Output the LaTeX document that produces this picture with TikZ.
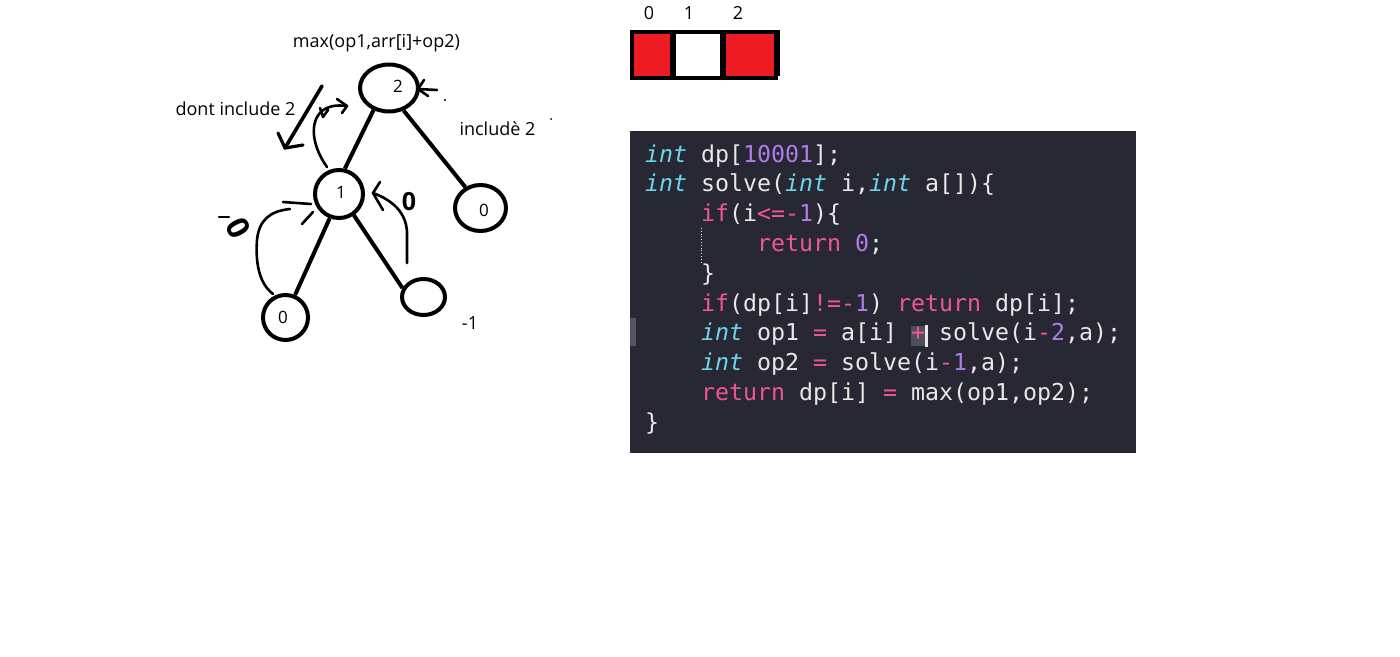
\documentclass[tikz,border=0pt]{standalone}
\usepackage{fontspec}
\setmainfont{Open Sans}
\newfontfamily\codefont{DejaVu Sans Mono}
\usetikzlibrary{shapes.geometric,arrows.meta}
\definecolor{paintred}{RGB}{237,28,36}
\definecolor{codebg}{RGB}{40,40,52}
\definecolor{kwcyan}{RGB}{110,214,236}
\definecolor{kwpink}{RGB}{238,86,152}
\definecolor{numpurple}{RGB}{176,124,236}
\definecolor{codefg}{RGB}{232,232,232}
\definecolor{gutter}{RGB}{84,84,100}
\definecolor{curbg}{RGB}{78,78,94}
\newcommand\ckI[1]{{\itshape\color{kwcyan}#1}}
\newcommand\ckP[1]{{\color{kwpink}#1}}
\newcommand\ckN[1]{{\color{numpurple}#1}}
\begin{document}
\begin{tikzpicture}[x=1pt,y=-1pt,
  treenode/.style={draw,ellipse,line width=4pt,inner sep=0pt},
  numtxt/.style={inner sep=0pt,font=\fontsize{17}{19}\selectfont},
  edge/.style={line width=4pt},
  hand/.style={line width=2.6pt,line cap=round,line join=round},
  lbl/.style={inner sep=0pt,font=\fontsize{18}{21}\selectfont},
  scrawl/.style={inner sep=0pt,font=\bfseries\fontsize{25}{28}\selectfont},
  cell/.style={draw,line width=4pt,minimum height=46pt,inner sep=0pt},
  code/.style={anchor=base west,inner sep=0pt,text=codefg,font=\codefont\fontsize{23.25}{28}\selectfont},
]
\useasboundingbox (0,0) rectangle (1400,656);
\fill[white] (0,0) rectangle (1400,656);

% ---------- tree ----------
\node[treenode,minimum width=58pt,minimum height=47pt] (n2) at (389,88) {};
\node[treenode,minimum width=48pt,minimum height=48pt] (n1) at (339,194) {};
\node[treenode,minimum width=51pt,minimum height=46pt] (nr) at (480.5,208) {};
\node[treenode,minimum width=45pt,minimum height=45pt] (nl) at (285.5,317.5) {};
\node[treenode,minimum width=43pt,minimum height=36pt] (nm) at (423.5,297) {};

\node[numtxt] (t2) at (398,86) {2};
\node[numtxt] (t1) at (341,192) {1};
\node[numtxt] (tr) at (484,210) {0};
\node[numtxt] (tl) at (283,317) {0};

\draw[edge] (n2.235) -- (n1.77);
\draw[edge] (n2.303) -- (nr.126);
\draw[edge] (n1.249) -- (nl.67);
\draw[edge] (n1.305) -- (nm.157);

% labels
\node[lbl] (lmax) at (376.5,43) {max(op1,arr[i]+op2)};
\node[lbl] (ldont) at (235.5,109) {dont include 2};
\node[lbl] (linc) at (497.5,129) {includè 2};
\node[lbl] (lm1) at (470,323) {-1};

% long straight arrow (dont include)
\coordinate (a1s) at (322,86);
\coordinate (a1e) at (285,148);
\draw[hand,line width=3.6pt] (a1s) -- (a1e);
\draw[hand,line width=3.2pt] (278,133) -- (a1e) -- (303,145);

% curved arrow from 1 up to 2
\coordinate (a2s) at (327,167);
\coordinate (a2e) at (347,106);
\draw[hand] (a2s) .. controls (312,146) and (309,122) .. (322,111) .. controls (330,105) and (338,105) .. (a2e);
\draw[hand] (337,99) -- (a2e) -- (342,113);
\draw[hand] (320,108) -- (323,117) -- (328,110);

% arrow into 2 from right
\coordinate (a3e) at (418,89);
\draw[hand] (437,90) -- (a3e);
\draw[hand] (424,80) -- (a3e) -- (428,96);

% left curved arrow from bottom-left 0 to 1
\coordinate (a4s) at (273,294);
\coordinate (a4e) at (290,209);
\draw[hand] (a4s) .. controls (256,281) and (256,255) .. (257,240) .. controls (259,220) and (270,211) .. (a4e);
\draw[hand] (283,202) -- (311,204);
\draw[hand] (302,224) -- (313,212);

% right curved arrow from empty node to 1
\coordinate (a5s) at (407,263);
\coordinate (a5e) at (373,193);
\draw[hand] (a5s) -- (407,232) .. controls (406,212) and (392,200) .. (a5e);
\draw[hand] (380,182) -- (a5e) -- (383,210);

% scrawled zeros
\node[scrawl,rotate=-62,font=\bfseries\fontsize{31}{34}\selectfont] (z1) at (238,228) {0};
\draw[hand] (219,217) -- (229,217);
\node[scrawl] (z2) at (409,202) {0};

% stray marks
\fill (445,100) circle (1.2);
\fill (551,119) circle (1);

% ---------- array ----------
\node[cell,fill=paintred,minimum width=40pt] (c0) at (652,55) {};
\node[cell,fill=white,minimum width=50pt] (c1) at (697,55) {};
\node[cell,fill=paintred,minimum width=54pt] (c2) at (749,55) {};
\draw[line width=3pt] (c0.north east) -- ([yshift=4pt]c0.south east);
\draw[line width=3pt] (c1.north east) -- ([yshift=4pt]c1.south east);
\draw[line width=3pt] (c2.north east) -- ([yshift=4pt]c2.south east);
\node[lbl] (i0) at (649,13) {0};
\node[lbl] (i1) at (689,13) {1};
\node[lbl] (i2) at (738,13) {2};

% ---------- code ----------
\fill[codebg] (630,131) rectangle (1136,453);
\fill[gutter] (630,318) rectangle (636,346);
\draw[codefg!25,dotted,line width=0.8pt] (701,228) -- (701,262);
\fill[curbg] (911,326) rectangle (925,346);
\fill[codefg] (925,325) rectangle (927.5,347);

\node[code] (l1) at (645,162) {\ckI{int} dp[\ckN{10001}];};
\node[code] (l2) at (645,191.8) {\ckI{int} solve(\ckI{int} i,\ckI{int} a[])\{};
\node[code] (l3) at (701,221.6) {\ckP{if}(i\ckP{<=-}\ckN{1})\{};
\node[code] (l4) at (757,251.4) {\ckP{return} \ckN{0};};
\node[code] (l5) at (701,281.2) {\}};
\node[code] (l6) at (701,311) {\ckP{if}(dp[i]\ckP{!=-}\ckN{1}) \ckP{return} dp[i];};
\node[code] (l7) at (701,340.8) {\ckI{int} op1 \ckP{=} a[i] \ckP{+} solve(i\ckP{-}\ckN{2},a);};
\node[code] (l8) at (701,370.6) {\ckI{int} op2 \ckP{=} solve(i\ckP{-}\ckN{1},a);};
\node[code] (l9) at (701,400.4) {\ckP{return} dp[i] \ckP{=} max(op1,op2);};
\node[code] (l10) at (645,430.2) {\}};
\end{tikzpicture}
\end{document}
